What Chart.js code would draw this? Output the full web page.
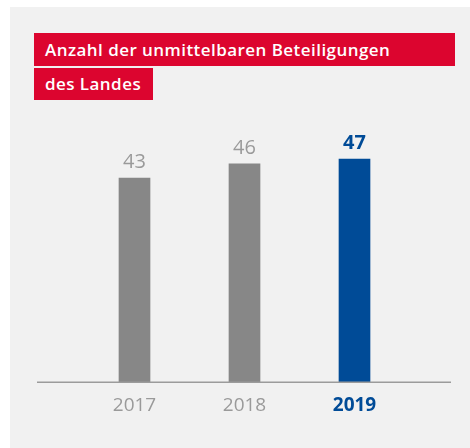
<!DOCTYPE html>
<html>
<head>
<meta charset="utf-8">
<script src="https://cdn.jsdelivr.net/npm/chart.js@4"></script>
<style>
  body { margin: 0; background: #fff; width: 470px; height: 448px; overflow: hidden; font-family: "Open Sans", sans-serif; }
  .panel { position: absolute; left: 10px; top: 7px; width: 460px; height: 441px; background: #f1f1f1; }
  .titel { position: absolute; left: 34px; background: #dc052f; color: #fff; font-size: 17px; letter-spacing: 0.45px; font-weight: 600; box-sizing: border-box; padding-left: 11px; }
  #t1 { top: 33px; width: 421px; height: 33px; line-height: 33px; }
  #t2 { top: 68px; width: 119px; height: 32px; line-height: 32px; }
  #grafik { position: absolute; left: 0; top: 0; }
</style>
</head>
<body>
<div class="panel"></div>
<canvas id="grafik" width="470" height="448"></canvas>
<div class="titel" id="t1">Anzahl der unmittelbaren Beteiligungen</div>
<div class="titel" id="t2">des Landes</div>
<script>
// Daten
const jahre = ["2017", "2018", "2019"];
const beteiligungen = [43, 46, 47];
const hervorgehoben = [false, false, true];

const grau = "#878787";
const grauText = "#9a9a9a";
const blau = "#004b97";

// Grundlinie über die volle Breite
const grundlinie = {
    id: "grundlinie",
    afterDraw(chart) {
        const y = chart.scales.y.getPixelForValue(0);
        const ctx = chart.ctx;
        ctx.save();
        ctx.strokeStyle = "#9b9b9b";
        ctx.lineWidth = 1.5;
        ctx.beginPath();
        ctx.moveTo(37, y);
        ctx.lineTo(451, y);
        ctx.stroke();
        ctx.restore();
    }
};

// Werte über den Balken
const werte = {
    id: "werte",
    afterDatasetsDraw(chart) {
        const ctx = chart.ctx;
        const meta = chart.getDatasetMeta(0);
        ctx.save();
        ctx.textAlign = "center";
        ctx.textBaseline = "alphabetic";
        meta.data.forEach((bar, i) => {
            const fett = hervorgehoben[i];
            ctx.font = (fett ? "700 " : "400 ") + "20px 'Open Sans'";
            ctx.fillStyle = fett ? blau : grauText;
            ctx.fillText(String(beteiligungen[i]), bar.x, bar.y - 10);
        });
        ctx.restore();
    }
};

new Chart(document.getElementById("grafik").getContext("2d"), {
    type: "bar",
    data: {
        labels: jahre,
        datasets: [{
            data: beteiligungen,
            backgroundColor: hervorgehoben.map(h => h ? blau : grau),
            barThickness: 31
        }]
    },
    options: {
        responsive: false,
        animation: false,
        layout: { padding: { left: 79.5, right: 60.5, top: 121, bottom: 27 } },
        plugins: { legend: { display: false }, tooltip: { enabled: false } },
        scales: {
            x: {
                grid: { display: false },
                border: { display: false },
                ticks: {
                    padding: 4,
                    color: ctx => hervorgehoben[ctx.index] ? blau : grauText,
                    font: ctx => ({ family: "'Open Sans'", size: 19, weight: hervorgehoben[ctx.index] ? "700" : "400" })
                }
            },
            y: { display: false, min: 0, max: 55 }
        }
    },
    plugins: [grundlinie, werte]
});
</script>
</body>
</html>
